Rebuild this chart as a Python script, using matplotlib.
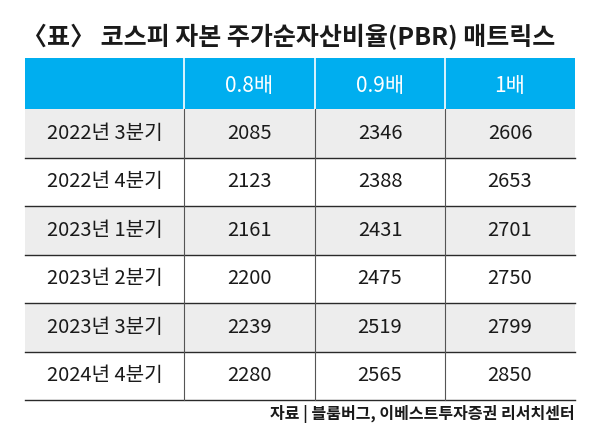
import matplotlib.pyplot as plt
from matplotlib.patches import Rectangle

plt.rcParams['font.family'] = ['Noto Sans CJK KR', 'DejaVu Sans']

title = "〈표〉 코스피 자본 주가순자산비율(PBR) 매트릭스"
source = "자료 | 블룸버그, 이베스트투자증권 리서치센터"

columns = ["0.8배", "0.9배", "1배"]
periods = ["2022년 3분기", "2022년 4분기", "2023년 1분기",
           "2023년 2분기", "2023년 3분기", "2024년 4분기"]
pbr_08 = [2085, 2123, 2161, 2200, 2239, 2280]
pbr_09 = [2346, 2388, 2431, 2475, 2519, 2565]
pbr_10 = [2606, 2653, 2701, 2750, 2799, 2850]

# table geometry in pixels
col_edges = [25, 184, 315, 445, 575]
head_top, head_bot = 58, 109
row_h = 48.5
header_color = '#00AEEF'
gray = '#EDEDED'
line_color = '#2a2a2a'

fig = plt.figure(figsize=(6, 4.3), dpi=100)
ax = fig.add_axes([0, 0, 1, 1])
ax.set_xlim(0, 600)
ax.set_ylim(430, 0)
ax.axis('off')

ax.text(22, 37, title, fontsize=18, fontweight='bold', color='#1a1a1a',
        ha='left', va='center')

# header
ax.add_patch(Rectangle((col_edges[0], head_top), col_edges[-1] - col_edges[0],
                       head_bot - head_top, color=header_color, lw=0))
for x in col_edges[1:-1]:
    ax.plot([x, x], [head_top, head_bot], color='white', lw=1.2)
for i, c in enumerate(columns):
    cx = (col_edges[i + 1] + col_edges[i + 2]) / 2
    ax.text(cx, (head_top + head_bot) / 2 + 2, c, fontsize=15, color='white',
            fontweight='medium', ha='center', va='center')

values = list(zip(pbr_08, pbr_09, pbr_10))
for r, (p, vals) in enumerate(zip(periods, values)):
    y0 = head_bot + r * row_h
    y1 = y0 + row_h
    if r % 2 == 0:
        ax.add_patch(Rectangle((col_edges[0], y0), col_edges[-1] - col_edges[0],
                               row_h, color=gray, lw=0))
    ax.plot([col_edges[0], col_edges[-1]], [y1, y1], color=line_color, lw=1.0)
    for x in col_edges[1:-1]:
        ax.plot([x, x], [y0, y1], color='#555555', lw=0.8)
    cy = (y0 + y1) / 2
    ax.text((col_edges[0] + col_edges[1]) / 2, cy, p, fontsize=14.5,
            fontweight='medium', color='#1a1a1a', ha='center', va='center')
    for i, v in enumerate(vals):
        cx = (col_edges[i + 1] + col_edges[i + 2]) / 2
        ax.text(cx, cy, str(v), fontsize=14.5, fontweight='medium',
                color='#1a1a1a', ha='center', va='center')

ax.text(575, 414, source, fontsize=11.5, fontweight='bold', color='#1a1a1a',
        ha='right', va='center')

fig.savefig('out.png', dpi=100)
